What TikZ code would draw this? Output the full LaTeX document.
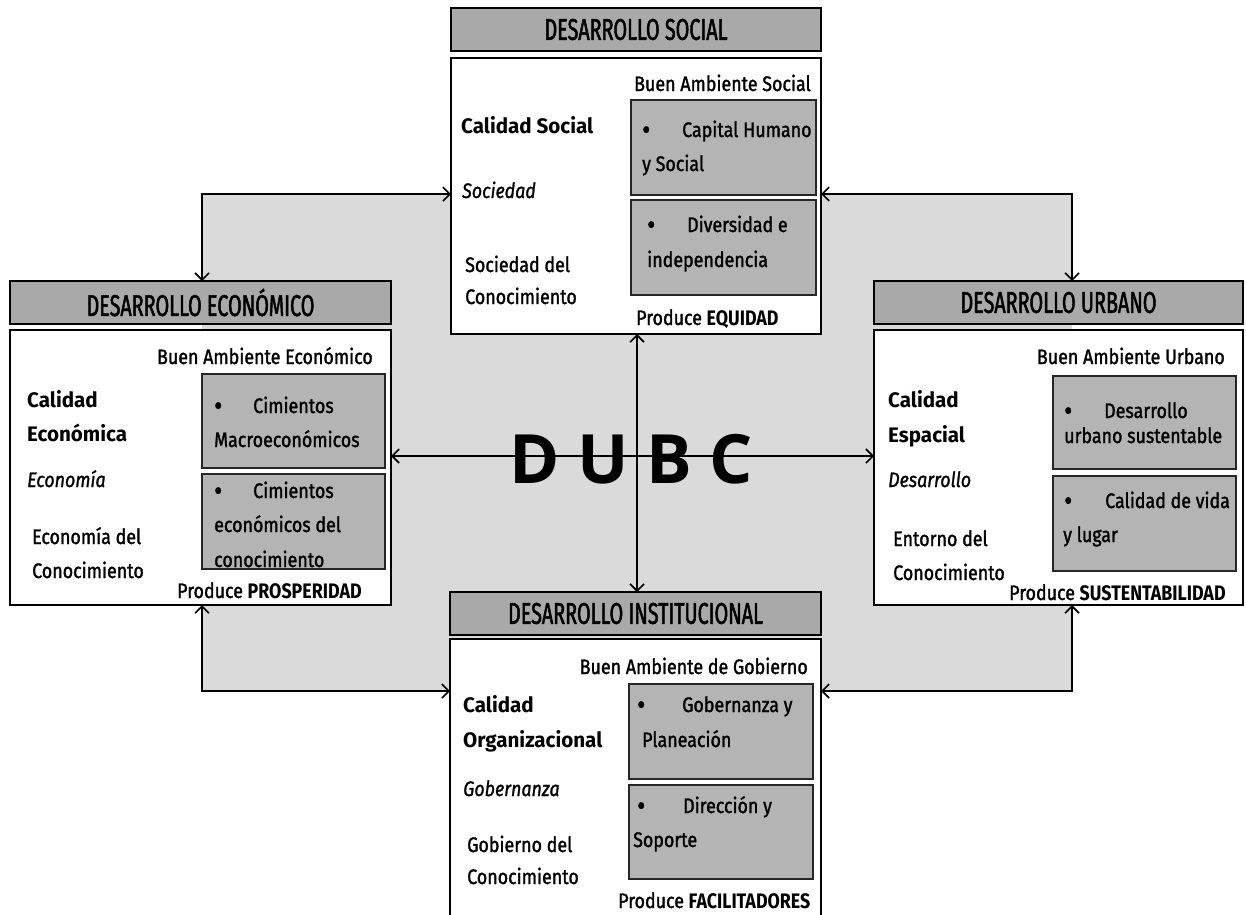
\documentclass[tikz,border=0pt]{standalone}
\usepackage{fontspec}
\setmainfont[FakeStretch=0.85, UprightFeatures={FakeBold=1.4}, ItalicFeatures={FakeBold=1.2}]{Fira Sans}
\newfontfamily\titlefam[FakeStretch=0.66, FakeBold=1.6]{Fira Sans}
\newfontfamily\labelfam[FakeStretch=0.98]{Fira Sans}
\newfontfamily\dubcfont{Open Sans}
\usetikzlibrary{arrows.meta}
\definecolor{titlegray}{HTML}{A9A9A9}
\definecolor{subgray}{HTML}{B4B4B4}
\definecolor{bggray}{HTML}{DADADA}
\newcommand{\bodyfnt}{\fontsize{21}{25}\selectfont}
\newcommand{\titlefnt}{\titlefam\fontsize{30}{32}\selectfont}
\newcommand{\bulw}[1]{\makebox[#1][l]{\raisebox{-2.5pt}{\fontsize{29}{29}\selectfont\textbullet}}}
\tikzset{
  titlebox/.style={draw=black, fill=titlegray, line width=1.5pt, minimum height=43pt, inner sep=0pt, outer sep=0pt, anchor=north west, font=\titlefnt},
  bodybox/.style={draw=black, fill=white, line width=1.5pt, inner sep=0pt, outer sep=0pt, anchor=north west},
  subbox/.style={draw=black!85, fill=subgray, line width=1.2pt, inner sep=0pt, outer sep=0pt, anchor=north west},
  txt/.style={anchor=base west, inner sep=0pt, font=\bodyfnt},
  txtr/.style={anchor=base east, inner sep=0pt, font=\bodyfnt},
  txtb/.style={anchor=base west, inner sep=0pt, font=\labelfam\bodyfnt\bfseries},
  txti/.style={anchor=base west, inner sep=0pt, font=\bodyfnt\itshape},
  link/.style={line width=1.6pt, {Straight Barb[length=7pt,width=14pt]}-{Straight Barb[length=7pt,width=14pt]}},
}
\begin{document}
\begin{tikzpicture}[x=1pt,y=-1pt]
\useasboundingbox[fill=white] (0,0) rectangle (1246,914);
% corner coordinates of the grey field
\coordinate (tl) at (202,194);
\coordinate (tr) at (1072,194);
\coordinate (bl) at (202,691);
\coordinate (br) at (1072,691);
\coordinate (cx) at (637,456);
\fill[bggray] (tl) rectangle (br);

% ---------- boxes ----------
\node[titlebox, minimum width=370pt] (st) at (451,8) {DESARROLLO SOCIAL};
\node[bodybox, minimum width=370pt, minimum height=276pt] (sb) at (451,58) {};
\node[subbox, minimum width=185pt, minimum height=95pt] (ss1) at (631,100) {};
\node[subbox, minimum width=185pt, minimum height=95pt] (ss2) at (631,200) {};

\node[titlebox, minimum width=381pt] (et) at (10,281) {DESARROLLO ECONÓMICO};
\node[bodybox, minimum width=381pt, minimum height=275pt] (eb) at (10,330) {};
\node[subbox, minimum width=183pt, minimum height=94pt] (es1) at (202,374) {};
\node[subbox, minimum width=183pt, minimum height=95pt] (es2) at (202,474) {};

\node[titlebox, minimum width=369pt] (ut) at (874,281) {DESARROLLO URBANO};
\node[bodybox, minimum width=369pt, minimum height=275pt] (ub) at (874,330) {};
\node[subbox, minimum width=183pt, minimum height=93pt] (us1) at (1053,376) {};
\node[subbox, minimum width=183pt, minimum height=95pt] (us2) at (1053,476) {};

\node[titlebox, minimum width=371pt] (it) at (450,592) {DESARROLLO INSTITUCIONAL};
\node[bodybox, minimum width=371pt, minimum height=280pt] (ib) at (450,639) {};
\node[subbox, minimum width=184pt, minimum height=95pt] (is1) at (629,684) {};
\node[subbox, minimum width=184pt, minimum height=94pt] (is2) at (629,785) {};

% ---------- connectors ----------
\draw[link] (et.north -| tl) -- (tl) -- (sb.west |- tl);
\draw[link] (sb.east |- tr) -- (tr) -- (ut.north -| tr);
\draw[link] (eb.south -| bl) -- (bl) -- (ib.west |- bl);
\draw[link] (ub.south -| br) -- (br) -- (ib.east |- br);
\draw[link] (sb.south -| cx) -- (it.north -| cx);
\draw[link] (eb.east |- cx) -- (ub.west |- cx);

\node[anchor=base, inner sep=0pt, font=\dubcfont\bfseries\fontsize{68}{68}\selectfont] (dubc) at (631,483) {D U B C};

% ---------- social texts ----------
\node[txtr] (sba) at (811,91) {Buen Ambiente Social};
\node[txtb] (scal) at (461,133) {Calidad Social};
\node[txti] (sit) at (462,198) {Sociedad};
\node[txt] (sk1) at (465,272) {Sociedad del};
\node[txt] (sk2) at (465,304) {Conocimiento};
\node[txt] (spr) at (636,325) {Produce \textbf{EQUIDAD}};
\node[txt] (s11) at (642,137) {\bulw{40pt}Capital Humano};
\node[txt] (s12) at (642,171) {y Social};
\node[txt] (s21) at (647,232) {\bulw{40pt}Diversidad e};
\node[txt] (s22) at (647,267) {independencia};

% ---------- economic texts ----------
\node[txtr] (eba) at (373,364) {Buen Ambiente Económico};
\node[txtb] (ec1) at (27,407) {Calidad};
\node[txtb] (ec2) at (27,441) {Económica};
\node[txti] (eit) at (27,487) {Economía};
\node[txt] (ek1) at (32,544) {Economía del};
\node[txt] (ek2) at (32,578) {Conocimiento};
\node[txt] (epr) at (177,598) {Produce \textbf{PROSPERIDAD}};
\node[txt] (e11) at (214,413) {\bulw{39pt}Cimientos};
\node[txt] (e12) at (214,447) {Macroeconómicos};
\node[txt] (e21) at (214,498) {\bulw{39pt}Cimientos};
\node[txt] (e22) at (214,532) {económicos del};
\node[txt] (e23) at (214,567) {conocimiento};

% ---------- urban texts ----------
\node[txtr] (uba) at (1225,364) {Buen Ambiente Urbano};
\node[txtb] (uc1) at (888,407) {Calidad};
\node[txtb] (uc2) at (888,442) {Espacial};
\node[txti] (uit) at (888,487) {Desarrollo};
\node[txt] (uk1) at (893,546) {Entorno del};
\node[txt] (uk2) at (893,580) {Conocimiento};
\node[txt] (upr) at (1009,600) {Produce \textbf{SUSTENTABILIDAD}};
\node[txt] (u11) at (1064,418) {\bulw{40pt}Desarrollo};
\node[txt] (u12) at (1064,443) {urbano sustentable};
\node[txt] (u21) at (1064,508) {\bulw{41pt}Calidad de vida};
\node[txt] (u22) at (1063,542) {y lugar};

% ---------- institutional texts ----------
\node[txtr] (iba) at (808,674) {Buen Ambiente de Gobierno};
\node[txtb] (ic1) at (463,712) {Calidad};
\node[txtb] (ic2) at (463,747) {Organizacional};
\node[txti] (iit) at (463,796) {Gobernanza};
\node[txt] (ik1) at (467,852) {Gobierno del};
\node[txt] (ik2) at (467,884) {Conocimiento};
\node[txt] (ipr) at (618,908) {Produce \textbf{FACILITADORES}};
\node[txt] (i11) at (637,712) {\bulw{45pt}Gobernanza y};
\node[txt] (i12) at (642,747) {Planeación};
\node[txt] (i21) at (637,813) {\bulw{46pt}Dirección y};
\node[txt] (i22) at (633,847) {Soporte};
\end{tikzpicture}
\end{document}
